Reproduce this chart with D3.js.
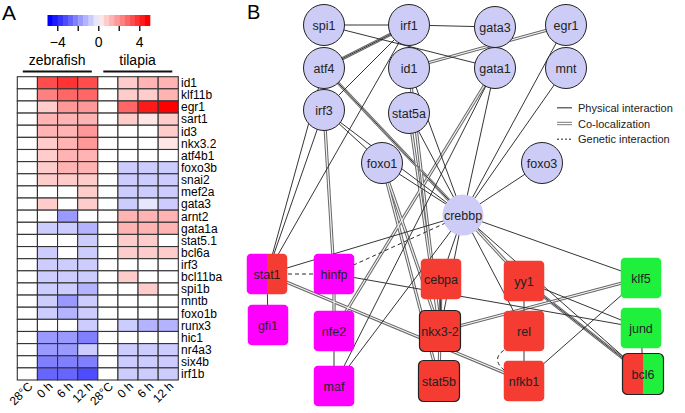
<!DOCTYPE html>
<html>
<head>
<meta charset="utf-8">
<script src="https://cdn.jsdelivr.net/npm/d3@7"></script>
<style>
  body { margin: 0; background: #fff; }
  svg { font-family: "Liberation Sans", Arial, sans-serif; }
</style>
</head>
<body>
<svg id="fig" width="685" height="413"></svg>
<script>
// ---- panel A data ----
const genes = ["id1", "klf11b", "egr1", "sart1", "id3", "nkx3.2", "atf4b1", "foxo3b", "snai2", "mef2a",
    "gata3", "arnt2", "gata1a", "stat5.1", "bcl6a", "irf3", "bcl11ba", "spi1b", "mntb", "foxo1b",
    "runx3", "hic1", "nr4a3", "six4b", "irf1b"];
const conditions = ["28°C", "0 h", "6 h", "12 h", "28°C", "0 h", "6 h", "12 h"];
const species = ["zebrafish", "tilapia"];
const colorTicks = [-4, -2, 0, 2, 4];
const colorLabels = [-4, 0, 4];

const zebrafish28 = genes.map(() => 0);
const zebrafish0h = [3.4, 2.6, 0.9, 1.4, 1.3, 1.0, 0.9, 0.9, 0.8, 0, 0.8, 0, -0.8, 0, -0.8, -0.8, -0.8, -0.8, -0.8, -0.8, 0, -2.2, -1.8, -2.6, -2.8];
const zebrafish6h = [3.8, 3.0, 1.8, 1.5, 1.5, 1.6, 1.4, 1.3, 0.8, 0, 0, -1.8, -0.8, 0, 0, -0.8, -0.8, -0.8, -1.8, -1.6, 0, -1.8, -1.8, -2.6, -2.8];
const zebrafish12h = [3.6, 2.8, 1.8, 1.7, 1.9, 2.0, 1.5, 1.5, 0.8, 1.0, 1.0, 0, -1.3, -0.8, -0.8, -0.8, -0.8, -1.6, -0.8, -0.8, -0.8, -2.6, -1.2, -2.3, -3.6];
const tilapia28 = genes.map(() => 0);
const tilapia0h = [0.8, 0.8, 3.0, 0.8, 0, 0, 0, -0.8, -0.8, -0.8, -0.8, 1.3, 1.3, 0.8, 0.8, 0, 0.8, 0, 0, 0, -0.8, 0, -0.8, -0.8, -0.8];
const tilapia6h = [1.3, 1.2, 4.4, 0.7, 0, 0, 0, -0.8, -0.8, -0.8, -0.7, 1.4, 1.3, 0.8, 0.8, 0, 0, 0.8, 0, 0, -1.6, 0, -0.8, -0.8, -0.8];
const tilapia12h = [1.3, 1.3, 4.8, 0.8, 0.8, 0.7, 0, -0.8, -0.8, -0.8, -0.8, 1.4, 1.5, 0, 0.8, 0, 0, 0, 0, 0, -1.6, 0, -0.8, -0.8, -0.8];
const columns = [zebrafish28, zebrafish0h, zebrafish6h, zebrafish12h, tilapia28, tilapia0h, tilapia6h, tilapia12h];

// ---- panel B data ----
// layout units are pixels inside panel B
const circleNodes = [
    ["spi1", 79, 25], ["irf1", 164, 25], ["gata3", 250, 27], ["egr1", 321, 25],
    ["atf4", 79, 68], ["id1", 164, 68], ["gata1", 250, 68], ["mnt", 321, 68],
    ["irf3", 79, 110], ["stat5a", 164, 113], ["foxo1", 137, 163], ["foxo3", 297, 163],
    ["crebbp", 218, 215]
];
const boxNodes = [
    ["stat1", 22, 274, ["#ff00ff", "#f43c33"], false], ["gfi1", 23, 325, ["#ff00ff"], false],
    ["hinfp", 89, 274, ["#ff00ff"], false], ["nfe2", 89, 331, ["#ff00ff"], false], ["maf", 89, 386, ["#ff00ff"], false],
    ["cebpa", 196, 279, ["#f43c33"], false], ["nkx3-2", 195, 331, ["#f43c33"], true], ["stat5b", 194, 381, ["#f43c33"], true],
    ["yy1", 279, 281, ["#f43c33"], false], ["rel", 279, 331, ["#f43c33"], false], ["nfkb1", 279, 381, ["#f43c33"], false],
    ["klf5", 396, 278, ["#1ff03c"], false], ["jund", 396, 328, ["#1ff03c"], false], ["bcl6", 398, 374, ["#f43c33", "#1ff03c"], true]
];
const physical = [
    ["spi1", "irf1"], ["irf1", "gata3"], ["spi1", "gata1"], ["atf4", "irf1"], ["irf3", "irf1"], ["stat1", "irf1"],
    ["stat1", "atf4"], ["irf3", "foxo1"], ["atf4", "crebbp"], ["irf3", "crebbp"], ["foxo1", "crebbp"], ["stat5a", "crebbp"],
    ["gata1", "crebbp"], ["egr1", "crebbp"], ["mnt", "crebbp"], ["foxo3", "crebbp"], ["stat1", "crebbp"], ["stat1", "gfi1"],
    ["nfe2", "maf"], ["hinfp", "jund"], ["maf", "crebbp"], ["maf", "gata1"], ["crebbp", "cebpa"], ["crebbp", "nkx3-2"],
    ["crebbp", "rel"], ["crebbp", "klf5"], ["crebbp", "bcl6"], ["cebpa", "nkx3-2"], ["yy1", "rel"], ["rel", "nfkb1"],
    ["yy1", "jund"], ["yy1", "bcl6"], ["nfkb1", "klf5"], ["jund", "bcl6"], ["irf3", "stat1"], ["id1", "crebbp"]
];
const colocalization = [
    ["atf4", "irf1"], ["id1", "egr1"], ["irf3", "hinfp"], ["hinfp", "nfe2"], ["gata1", "nfe2"], ["id1", "nkx3-2"],
    ["stat5a", "nkx3-2"], ["foxo1", "nkx3-2"], ["foxo1", "stat5b"], ["atf4", "crebbp"], ["stat1", "nfkb1"],
    ["nkx3-2", "klf5"], ["nkx3-2", "stat5b"], ["crebbp", "yy1"], ["yy1", "bcl6"], ["cebpa", "nkx3-2"]
];
const genetic = [["stat1", "hinfp"], ["hinfp", "crebbp"], ["rel", "nfkb1"]];
const legendItems = ["Physical interaction", "Co-localization", "Genetic interaction"];

const svg = d3.select('#fig');

// ================= panel A =================
const colorVal = (v) => {
    const step = Math.round(v * 2) / 2;
    return step < 0 ? d3.interpolateRgb('#ffffff', '#0000ff')(-step / 5) : d3.interpolateRgb('#ffffff', '#ff0000')(step / 5);
};

svg.append('text').attr('x', 2).attr('y', 20).attr('font-size', 21).text('A');

// colour bar
const cbX = d3.scaleLinear().domain([-5, 5]).range([47.5, 150]);
const cbSteps = d3.range(-5, 5, 0.5);
svg.append('g').selectAll('rect').data(cbSteps).join('rect')
    .attr('x', d => cbX(d)).attr('y', 15)
    .attr('width', cbX(0.5) - cbX(0) + 0.3).attr('height', 11)
    .attr('fill', d => colorVal(d + 0.25 >= 0 ? d + 0.5 : d));
svg.append('g').selectAll('line').data(colorTicks).join('line')
    .attr('x1', d => cbX(d)).attr('x2', d => cbX(d)).attr('y1', 26).attr('y2', 31)
    .attr('stroke', '#222').attr('stroke-width', 1.5);
svg.append('g').selectAll('text').data(colorLabels).join('text')
    .attr('x', d => cbX(d)).attr('y', 47).attr('text-anchor', 'middle').attr('font-size', 14)
    .text(d => d < 0 ? '\u2212' + Math.abs(d) : d);

// heatmap
const hx = d3.scaleBand().domain(d3.range(conditions.length)).range([17.3, 178.3]);
const hy = d3.scaleBand().domain(genes).range([76.7, 380]);

const speciesX = d3.scaleBand().domain(species).range([17.3, 178.3]);
svg.append('g').selectAll('text').data(species).join('text')
    .attr('x', d => speciesX(d) + speciesX.bandwidth() / 2 - 0.5).attr('y', 65)
    .attr('text-anchor', 'middle').attr('font-size', 14).text(d => d);
svg.append('g').selectAll('line').data(species).join('line')
    .attr('x1', d => speciesX(d) + 5.5).attr('x2', d => speciesX(d) + speciesX.bandwidth() - 6)
    .attr('y1', 71.5).attr('y2', 71.5).attr('stroke', '#111').attr('stroke-width', 2);

const cells = [];
columns.forEach((col, ci) => col.forEach((v, gi) => cells.push({ ci, gene: genes[gi], v })));
svg.append('g').selectAll('rect').data(cells).join('rect')
    .attr('x', d => hx(d.ci)).attr('y', d => hy(d.gene))
    .attr('width', hx.bandwidth()).attr('height', hy.bandwidth())
    .attr('fill', d => colorVal(d.v))
    .attr('stroke', '#333').attr('stroke-width', 1.1);

svg.append('g').selectAll('text').data(genes).join('text')
    .attr('x', 181).attr('y', d => hy(d) + hy.bandwidth() / 2 + 4.3)
    .attr('font-size', 12).text(d => d);

svg.append('g').selectAll('text').data(conditions).join('text')
    .attr('transform', (d, i) => `translate(${hx(i) + hx.bandwidth() / 2 + 6}, 387) rotate(-45)`)
    .attr('text-anchor', 'end').attr('font-size', 12).text(d => d);

// ================= panel B =================
const bx = d3.scaleLinear().domain([0, 440]).range([245, 685]);
const by = d3.scaleLinear().domain([0, 413]).range([0, 413]);

svg.append('text').attr('x', 247).attr('y', 19).attr('font-size', 20).text('B');

const nodeIndex = {};
circleNodes.forEach(d => { nodeIndex[d[0]] = { x: bx(d[1]), y: by(d[2]) }; });
boxNodes.forEach(d => { nodeIndex[d[0]] = { x: bx(d[1]), y: by(d[2]) }; });

const edgeG = svg.append('g');

// co-localization: double line
edgeG.selectAll('line.co').data(colocalization).join('line')
    .attr('x1', d => nodeIndex[d[0]].x).attr('y1', d => nodeIndex[d[0]].y)
    .attr('x2', d => nodeIndex[d[1]].x).attr('y2', d => nodeIndex[d[1]].y)
    .attr('stroke', '#666').attr('stroke-width', 3.2);
edgeG.selectAll('line.coin').data(colocalization).join('line')
    .attr('x1', d => nodeIndex[d[0]].x).attr('y1', d => nodeIndex[d[0]].y)
    .attr('x2', d => nodeIndex[d[1]].x).attr('y2', d => nodeIndex[d[1]].y)
    .attr('stroke', '#f4f4f4').attr('stroke-width', 1.2);

edgeG.selectAll('line.ph').data(physical).join('line')
    .attr('x1', d => nodeIndex[d[0]].x).attr('y1', d => nodeIndex[d[0]].y)
    .attr('x2', d => nodeIndex[d[1]].x).attr('y2', d => nodeIndex[d[1]].y)
    .attr('stroke', '#2a2a2a').attr('stroke-width', 0.95);

// genetic: dashed, the rel-nfkb1 one bows out to the left
edgeG.selectAll('path.ge').data(genetic).join('path')
    .attr('d', d => {
        const a = nodeIndex[d[0]], b = nodeIndex[d[1]];
        if (d[0] === 'rel') {
            return `M${a.x - 14},${a.y + 16} Q${a.x - 38},${(a.y + b.y) / 2 + 2} ${b.x - 16},${b.y - 8}`;
        }
        return `M${a.x},${a.y} L${b.x},${b.y}`;
    })
    .attr('fill', 'none').attr('stroke', '#2a2a2a').attr('stroke-width', 1).attr('stroke-dasharray', '4,3');

// circle nodes
const cG = svg.append('g').selectAll('g').data(circleNodes).join('g')
    .attr('transform', d => `translate(${bx(d[1])},${by(d[2])})`);
cG.append('circle').attr('r', 20.5).attr('fill', '#ccccf6').attr('stroke', '#222').attr('stroke-width', 1);
cG.filter(d => d[0] === 'crebbp').select('circle').attr('stroke', 'none');
cG.append('text').attr('text-anchor', 'middle').attr('y', 4.5).attr('font-size', 12.5).attr('fill', '#222').text(d => d[0]);

// box nodes
const half = 20.5;
const bG = svg.append('g').selectAll('g').data(boxNodes).join('g')
    .attr('transform', d => `translate(${bx(d[1])},${by(d[2])})`);
bG.each(function (d) {
    const g = d3.select(this);
    const fills = d[3];
    const id = 'clip-' + d[0];
    g.append('clipPath').attr('id', id).append('rect')
        .attr('x', -half).attr('y', -half).attr('width', half * 2).attr('height', half * 2).attr('rx', 5);
    const w = (half * 2) / fills.length;
    fills.forEach((f, i) => {
        g.append('rect').attr('clip-path', `url(#${id})`)
            .attr('x', -half + i * w).attr('y', -half).attr('width', w).attr('height', half * 2).attr('fill', f);
    });
    if (d[4]) {
        g.append('rect').attr('x', -half).attr('y', -half).attr('width', half * 2).attr('height', half * 2)
            .attr('rx', 5).attr('fill', 'none').attr('stroke', '#222').attr('stroke-width', 1.2);
    }
});
bG.append('text').attr('text-anchor', 'middle').attr('y', 4.5).attr('font-size', 12.5).attr('fill', '#222').text(d => d[0]);

// legend
const ly = d3.scaleBand().domain(legendItems).range([100, 147]);
const lg = svg.append('g').selectAll('g').data(legendItems).join('g')
    .attr('transform', d => `translate(557, ${ly(d) + ly.bandwidth() / 2})`);
lg.append('text').attr('x', 21).attr('y', 4).attr('font-size', 11).attr('fill', '#222').text(d => d);
lg.filter((d, i) => i === 0).append('line').attr('x1', 0).attr('x2', 15).attr('stroke', '#222');
lg.filter((d, i) => i === 1).append('line').attr('x1', 0).attr('x2', 15).attr('y1', -1.2).attr('y2', -1.2).attr('stroke', '#555').attr('stroke-width', 0.8);
lg.filter((d, i) => i === 1).append('line').attr('x1', 0).attr('x2', 15).attr('y1', 1.2).attr('y2', 1.2).attr('stroke', '#555').attr('stroke-width', 0.8);
lg.filter((d, i) => i === 2).append('line').attr('x1', 0).attr('x2', 15).attr('stroke', '#222').attr('stroke-dasharray', '2,2');
</script>
</body>
</html>
